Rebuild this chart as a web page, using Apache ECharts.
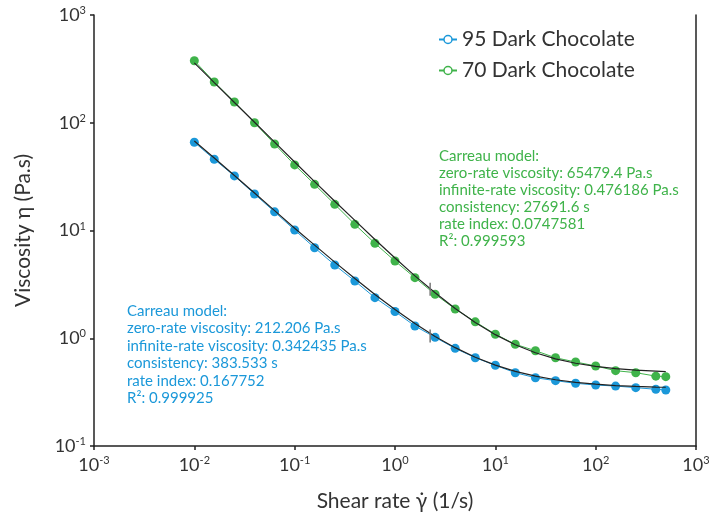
<!DOCTYPE html>
<html>
<head>
<meta charset="utf-8">
<script src="https://cdn.jsdelivr.net/npm/echarts@6/dist/echarts.min.js"></script>
<style>
  html, body { margin: 0; padding: 0; background: #fff; }
  #main { width: 726px; height: 520px; }
</style>
</head>
<body>
<div id="main"></div>
<script>
var chart = echarts.init(document.getElementById('main'));

// shear rate (1/s), 5 points per decade
var shearRate = [0.01, 0.0158, 0.0251, 0.0398, 0.0631, 0.1, 0.158, 0.251, 0.398, 0.631,
  1, 1.58, 2.51, 3.98, 6.31, 10, 15.8, 25.1, 39.8, 63.1, 100, 158, 251, 398, 500];

// measured viscosity (Pa.s)
var dark95 = [65.9, 45.8, 32.1, 21.8, 14.9, 10.1, 6.92, 4.78, 3.40, 2.38,
  1.77, 1.30, 1.02, 0.806, 0.660, 0.561, 0.479, 0.430, 0.404, 0.382,
  0.368, 0.360, 0.348, 0.336, 0.331];
var dark70 = [376.6, 238.8, 155.9, 100.1, 63.5, 40.6, 26.8, 17.5, 11.4, 7.61,
  5.21, 3.65, 2.56, 1.87, 1.42, 1.09, 0.879, 0.766, 0.659, 0.602,
  0.553, 0.500, 0.479, 0.445, 0.440];

// Carreau fit curves
var fit95 = [67.8, 47.1, 32.4, 22.3, 15.3, 10.5, 7.31, 5.09, 3.58, 2.55,
  1.85, 1.37, 1.04, 0.818, 0.666, 0.563, 0.493, 0.445, 0.412, 0.390,
  0.375, 0.364, 0.357, 0.352, 0.351];
var fit70 = [360, 236, 154, 101, 66.0, 43.2, 28.4, 18.7, 12.4, 8.25,
  5.56, 3.79, 2.64, 1.89, 1.40, 1.08, 0.870, 0.733, 0.644, 0.586,
  0.548, 0.523, 0.507, 0.496, 0.490];

// small grey cursor marks on the fits
var cursor95 = [2.24, 1.05];
var cursor70 = [2.24, 2.85];

var names = ['95 Dark Chocolate', '70 Dark Chocolate'];
var blue = '#1b98d9';
var green = '#3fb34a';

var note95 = ['Carreau model:', 'zero-rate viscosity: 212.206 Pa.s', 'infinite-rate viscosity: 0.342435 Pa.s',
  'consistency: 383.533 s', 'rate index: 0.167752', 'R²: 0.999925'];
var note70 = ['Carreau model:', 'zero-rate viscosity: 65479.4 Pa.s', 'infinite-rate viscosity: 0.476186 Pa.s',
  'consistency: 27691.6 s', 'rate index: 0.0747581', 'R²: 0.999593'];

var font = 'Lato';

function pairs(xs, ys) {
  return xs.map(function (x, i) { return [x, ys[i]]; });
}

function powLabel(v) {
  var e = Math.round(Math.log(v) / Math.LN10);
  return '{b|10}{s|' + e + '}';
}

var richPow = {
  b: { fontSize: 18, lineHeight: 20, color: '#333', fontFamily: font },
  s: { fontSize: 11, lineHeight: 11, color: '#333', fontFamily: font, verticalAlign: 'top' }
};

var axisLineStyle = { color: '#222', width: 1.5 };

function dataSeries(name, data, color) {
  return {
    name: name,
    type: 'line',
    data: pairs(shearRate, data),
    symbol: 'circle',
    symbolSize: 9,
    itemStyle: { color: color },
    lineStyle: { color: color, width: 1 },
    z: 2
  };
}

function fitSeries(data, mark) {
  return {
    type: 'line',
    data: pairs(shearRate, data),
    symbol: 'none',
    lineStyle: { color: '#222', width: 1.2 },
    z: 3,
    markPoint: {
      symbol: 'rect',
      symbolSize: [1.5, 13],
      itemStyle: { color: '#777' },
      label: { show: false },
      data: [{ coord: mark }]
    }
  };
}

var option = {
  animation: false,
  textStyle: { fontFamily: font },
  grid: { left: 94, right: 30, top: 15, bottom: 74 },
  legend: {
    orient: 'vertical',
    left: 433,
    top: 24,
    itemWidth: 18,
    itemHeight: 10,
    itemGap: 10,
    textStyle: { fontSize: 21, color: '#333', fontFamily: font },
    data: [
      { name: names[0], itemStyle: { color: '#fff', borderColor: blue, borderWidth: 1.5 } },
      { name: names[1], itemStyle: { color: '#fff', borderColor: green, borderWidth: 1.5 } }
    ]
  },
  xAxis: {
    type: 'log',
    logBase: 10,
    min: 0.001,
    max: 1000,
    splitNumber: 6,
    name: 'Shear rate γ̇ (1/s)',
    nameLocation: 'middle',
    nameGap: 45,
    nameTextStyle: { fontSize: 21, color: '#333', fontFamily: font },
    axisLine: { lineStyle: axisLineStyle },
    axisTick: { inside: false, length: 4, lineStyle: axisLineStyle },
    minorTick: { show: false },
    splitLine: { show: false },
    axisLabel: { margin: 9, formatter: powLabel, rich: richPow }
  },
  yAxis: [{
    type: 'log',
    logBase: 10,
    min: 0.1,
    max: 1000,
    splitNumber: 4,
    name: 'Viscosity η (Pa.s)',
    nameLocation: 'middle',
    nameGap: 60,
    nameTextStyle: { fontSize: 21, color: '#333', fontFamily: font },
    axisLine: { show: true, lineStyle: axisLineStyle },
    axisTick: { show: true, inside: false, length: 4, lineStyle: axisLineStyle },
    splitLine: { show: false },
    axisLabel: { margin: 8, formatter: powLabel, rich: richPow }
  }, {
    type: 'log',
    logBase: 10,
    min: 0.1,
    max: 1000,
    position: 'right',
    axisLine: { show: true, lineStyle: axisLineStyle },
    axisTick: { show: false },
    axisLabel: { show: false },
    splitLine: { show: false }
  }],
  graphic: [{
    type: 'text',
    left: 127,
    top: 302,
    style: { text: note95.join('\n'), fill: blue, font: '15px ' + font, lineHeight: 17.5 }
  }, {
    type: 'text',
    left: 439,
    top: 148,
    style: { text: note70.join('\n'), fill: green, font: '15px ' + font, lineHeight: 17 }
  }],
  series: [
    dataSeries(names[0], dark95, blue),
    dataSeries(names[1], dark70, green),
    fitSeries(fit95, cursor95),
    fitSeries(fit70, cursor70)
  ]
};

chart.setOption(option);
</script>
</body>
</html>
